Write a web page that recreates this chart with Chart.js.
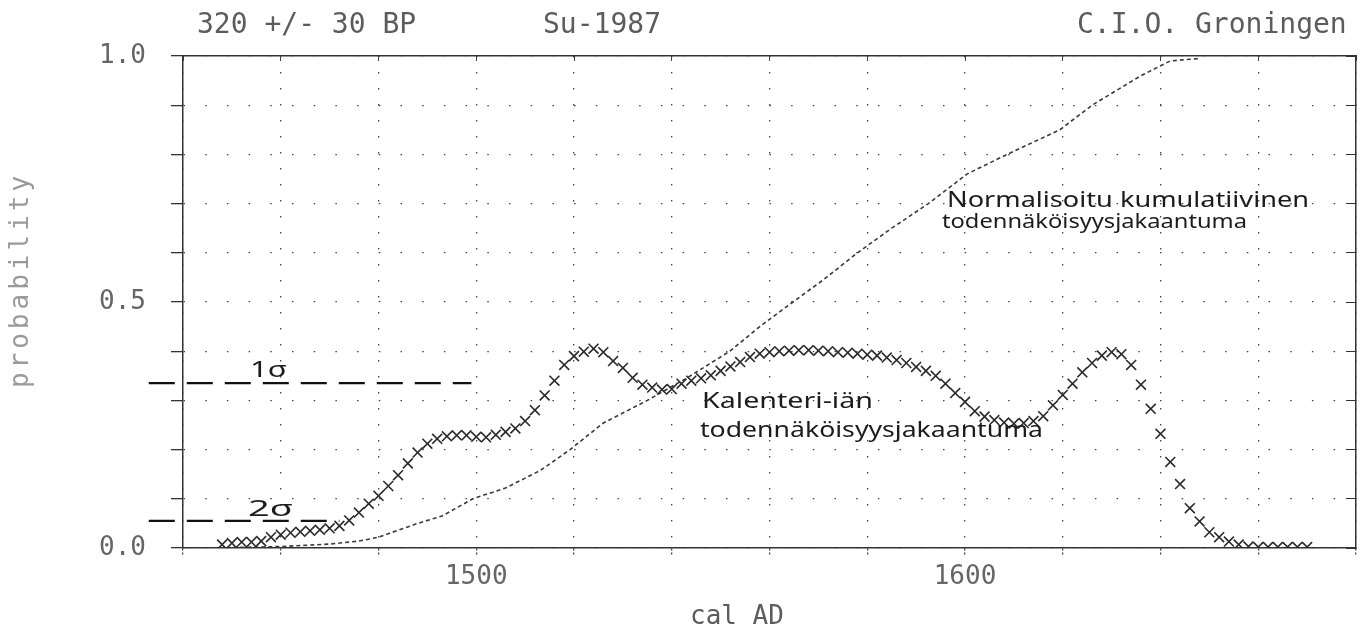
<!DOCTYPE html>
<html>
<head>
<meta charset="utf-8">
<title>Su-1987 calibration</title>
<script src="https://cdn.jsdelivr.net/npm/chart.js@4.4.1/dist/chart.umd.min.js"></script>
<style>
  html, body { margin: 0; padding: 0; background: #fff; }
  #wrap { position: relative; width: 1366px; height: 632px; }
</style>
</head>
<body>
<div id="wrap"><canvas id="calChart"></canvas></div>
<script>
// calendar age probability (crosses), one every 2 years
const probYears = [1448, 1450, 1452, 1454, 1456, 1458, 1460, 1462, 1464, 1466, 1468, 1470,
  1472, 1474, 1476, 1478, 1480, 1482, 1484, 1486, 1488, 1490, 1492, 1494, 1496, 1498,
  1500, 1502, 1504, 1506, 1508, 1510, 1512, 1514, 1516, 1518, 1520, 1522, 1524, 1526,
  1528, 1530, 1532, 1534, 1536, 1538, 1540, 1542, 1544, 1546, 1548, 1550, 1552, 1554,
  1556, 1558, 1560, 1562, 1564, 1566, 1568, 1570, 1572, 1574, 1576, 1578, 1580, 1582,
  1584, 1586, 1588, 1590, 1592, 1594, 1596, 1598, 1600, 1602, 1604, 1606, 1608, 1610,
  1612, 1614, 1616, 1618, 1620, 1622, 1624, 1626, 1628, 1630, 1632, 1634, 1636, 1638,
  1640, 1642, 1644, 1646, 1648, 1650, 1652, 1654, 1656, 1658, 1660, 1662, 1664, 1666,
  1668, 1670];
const probValues = [0.007, 0.01, 0.012, 0.012, 0.014, 0.022, 0.027, 0.031, 0.033, 0.035, 0.037, 0.04,
  0.045, 0.056, 0.072, 0.09, 0.106, 0.126, 0.148, 0.172, 0.194, 0.212, 0.222, 0.227, 0.229, 0.229,
  0.226, 0.225, 0.23, 0.236, 0.243, 0.258, 0.28, 0.31, 0.34, 0.372, 0.39, 0.399, 0.405, 0.398,
  0.38, 0.366, 0.346, 0.332, 0.326, 0.322, 0.323, 0.334, 0.34, 0.345, 0.351, 0.36, 0.369, 0.378,
  0.388, 0.395, 0.398, 0.4, 0.401, 0.402, 0.402, 0.401, 0.4, 0.398, 0.397, 0.395, 0.393, 0.391,
  0.387, 0.382, 0.376, 0.368, 0.36, 0.35, 0.334, 0.315, 0.297, 0.278, 0.267, 0.26, 0.255, 0.253,
  0.254, 0.258, 0.268, 0.29, 0.311, 0.334, 0.357, 0.376, 0.391, 0.398, 0.394, 0.372, 0.332, 0.283,
  0.232, 0.175, 0.13, 0.081, 0.054, 0.032, 0.022, 0.013, 0.007, 0.003, 0.002, 0.002, 0.002, 0.002,
  0.002, 0.002];

// normalised cumulative curve
const cumYears = [1446, 1460, 1470, 1476, 1480, 1484, 1488, 1493, 1499.3, 1506, 1513, 1519.2,
  1526, 1535, 1543, 1551.9, 1558, 1564.8, 1571, 1578, 1585, 1592.5, 1600.4, 1608.6, 1614,
  1619.4, 1626, 1631, 1636, 1642, 1648];
const cumValues = [0, 0.003, 0.008, 0.014, 0.022, 0.036, 0.05, 0.065, 0.1, 0.122, 0.157, 0.2,
  0.254, 0.3, 0.345, 0.4, 0.45, 0.5, 0.545, 0.6, 0.65, 0.7, 0.76, 0.8, 0.825,
  0.85, 0.9, 0.93, 0.96, 0.99, 0.995];

// hand-drawn 1 sigma / 2 sigma levels
const oneSigmaYears = [1433, 1499];
const oneSigmaLevel = [0.335, 0.335];
const twoSigmaYears = [1433, 1472];
const twoSigmaLevel = [0.055, 0.055];

const xTickLabels = [1500, 1600];
const yTickLabels = [0, 0.5, 1];

const pairs = (xs, ys) => xs.map((x, i) => ({x: x, y: ys[i]}));

const MONO = '"DejaVu Sans Mono", "Liberation Mono", monospace';
const HAND = '"Noto Sans", "DejaVu Sans", sans-serif';

// pencil note: fixed height, squeezed/stretched to the width it has on paper
function noteText(ctx, text, x, y, width, size) {
    ctx.font = size + 'px ' + HAND;
    const sx = width / ctx.measureText(text).width;
    ctx.save();
    ctx.translate(x, y);
    ctx.scale(sx, 1);
    ctx.fillText(text, 0, 0);
    ctx.restore();
}

// printed header, axis titles and the pencil notes
const paperText = {
    id: 'paperText',
    afterDraw(chart) {
        const ctx = chart.ctx;
        ctx.save();
        ctx.fillStyle = '#5c5c5c';
        ctx.textAlign = 'left';
        ctx.textBaseline = 'alphabetic';
        ctx.font = '28px ' + MONO;
        ctx.fillText('320 +/- 30 BP', 197, 33);
        ctx.fillText('Su-1987', 543, 33);
        ctx.fillText('C.I.O. Groningen', 1077, 33);

        ctx.font = '26px ' + MONO;
        ctx.fillText('cal AD', 690, 624);

        ctx.save();
        ctx.translate(28, 280);
        ctx.rotate(-Math.PI / 2);
        ctx.textAlign = 'center';
        ctx.fillStyle = '#9a9a9a';
        if ('letterSpacing' in ctx) ctx.letterSpacing = '4px';
        ctx.fillText('probability', 0, 0);
        ctx.restore();

        ctx.fillStyle = '#1c1c1c';
        noteText(ctx, 'Normalisoitu kumulatiivinen', 947, 207, 362, 21);
        noteText(ctx, 'todennäköisyysjakaantuma', 942, 228, 305, 20);
        noteText(ctx, 'Kalenteri-iän', 702, 408, 171, 21);
        noteText(ctx, 'todennäköisyysjakaantuma', 700, 437, 343, 21);
        noteText(ctx, '1σ', 250, 377, 37, 22);
        noteText(ctx, '2σ', 248, 516, 45, 22);
        ctx.restore();
    }
};

const ctx = document.getElementById('calChart');
new Chart(ctx, {
    type: 'line',
    data: {
        datasets: [{
            label: 'Kalenteri-iän todennäköisyysjakaantuma',
            data: pairs(probYears, probValues),
            showLine: false,
            pointStyle: 'crossRot',
            pointRadius: 7,
            pointBorderWidth: 1.6,
            pointBorderColor: '#2a2a2a',
            pointBackgroundColor: '#2a2a2a'
        }, {
            label: 'Normalisoitu kumulatiivinen',
            data: pairs(cumYears, cumValues),
            borderColor: '#3a3a3a',
            borderWidth: 1.6,
            borderDash: [4, 3],
            pointRadius: 0,
            tension: 0
        }, {
            label: '1σ',
            data: pairs(oneSigmaYears, oneSigmaLevel),
            borderColor: '#111',
            borderWidth: 2.2,
            borderDash: [26, 12],
            pointRadius: 0,
            clip: false
        }, {
            label: '2σ',
            data: pairs(twoSigmaYears, twoSigmaLevel),
            borderColor: '#111',
            borderWidth: 2.2,
            borderDash: [26, 12],
            pointRadius: 0,
            clip: false
        }]
    },
    options: {
        responsive: true,
        maintainAspectRatio: false,
        animation: false,
        layout: { padding: { top: 56, left: 0, right: 0, bottom: 0 } },
        plugins: { legend: { display: false }, tooltip: { enabled: false } },
        scales: {
            x: {
                type: 'linear', position: 'bottom', min: 1440, max: 1680,
                afterFit(s) { s.height = 84; },
                ticks: {
                    stepSize: 20, autoSkip: false, maxRotation: 0, padding: 6,
                    color: '#666', font: { family: MONO, size: 26 },
                    callback: v => xTickLabels.includes(v) ? String(v) : ''
                },
                grid: { color: '#444', lineWidth: 1.3, tickLength: 8, tickColor: '#444', tickBorderDash: [2, 2] },
                border: { color: '#333', width: 1.5, dash: [1.5, 14.5] }
            },
            x2: {
                type: 'linear', position: 'top', min: 1440, max: 1680,
                afterFit(s) { s.height = 0; },
                ticks: { display: false, stepSize: 20 },
                grid: { drawOnChartArea: false, tickLength: -5, tickColor: '#444' },
                border: { color: '#333', width: 1.5 }
            },
            y: {
                type: 'linear', position: 'left', min: 0, max: 1,
                afterFit(s) { s.width = 183; },
                ticks: {
                    stepSize: 0.1, padding: 25,
                    color: '#666', font: { family: MONO, size: 26 },
                    callback: v => yTickLabels.some(t => Math.abs(t - v) < 1e-6) ? v.toFixed(1) : ''
                },
                grid: { color: '#444', lineWidth: 1.3, tickLength: 12, tickColor: '#333' },
                border: { color: '#333', width: 1.5, dash: [1.5, 20.2] }
            },
            y2: {
                type: 'linear', position: 'right', min: 0, max: 1,
                afterFit(s) { s.width = 10; },
                ticks: { display: false, stepSize: 0.1 },
                grid: { drawOnChartArea: false, tickLength: -10, tickColor: '#333' },
                border: { color: '#333', width: 1.5 }
            }
        }
    },
    plugins: [paperText]
});
</script>
</body>
</html>
